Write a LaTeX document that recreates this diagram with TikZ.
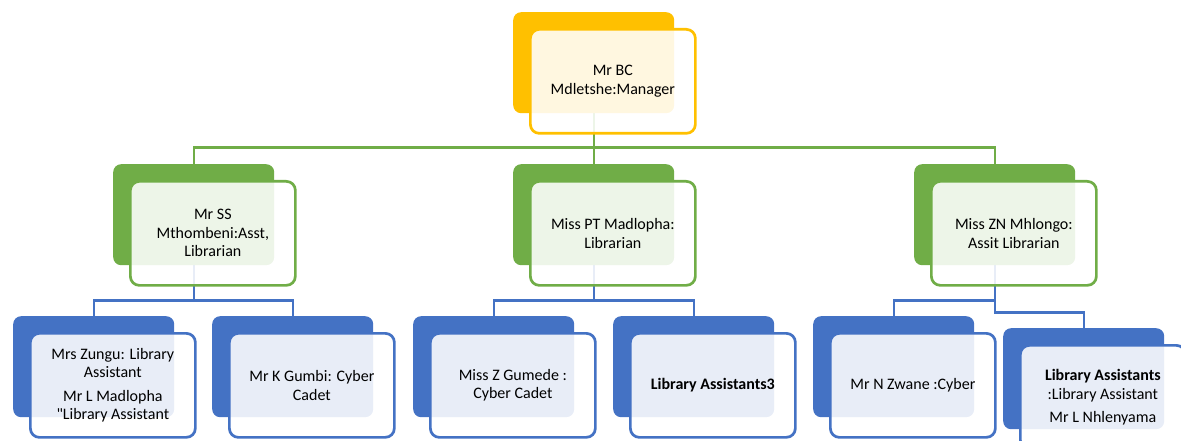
\documentclass[tikz,border=0pt]{standalone}
\usepackage{fontspec}
\setmainfont{Carlito}
\usetikzlibrary{backgrounds}
\definecolor{cyel}{HTML}{FFC000}
\definecolor{cgrn}{HTML}{70AD47}
\definecolor{cblu}{HTML}{4472C4}
\newcommand\straightquote{\XeTeXglyph\XeTeXcharglyph"0022\relax}
\tikzset{
  backbox/.style={fill=#1, draw=none, rounded corners=8pt, minimum width=161pt, minimum height=101pt, inner sep=0pt, anchor=north west},
  frontbox/.style={fill=white, fill opacity=0.88, text opacity=1, draw=#1, draw opacity=1, line width=2.7pt, rounded corners=9pt, minimum width=165pt, minimum height=104pt, inner sep=2pt, align=center, anchor=north west, font=\fontsize{16}{18.5}\selectfont},
  link/.style={draw=#1, line width=2.3pt},
}
\newcommand\orgunit[5]{%
  \node[backbox=#4] (#1B) at (#2,#3) {};
  \node[frontbox=#4] (#1F) at ([xshift=16pt,yshift=-16pt]#1B.north west) {#5};
}
\begin{document}
\begin{tikzpicture}[x=1pt,y=-1pt]
\useasboundingbox (0,0) rectangle (1181,441);
\clip (0,0) rectangle (1181,441);
% boxes
\orgunit{top}{513}{12}{cyel}{Mr BC\\Mdletshe:Manager}
\orgunit{ma}{113}{164}{cgrn}{Mr SS\\Mthombeni:Asst,\\Librarian}
\orgunit{mb}{513}{164}{cgrn}{Miss PT Madlopha:\\Librarian}
\orgunit{mc}{914}{164}{cgrn}{Miss ZN Mhlongo:\\Assit Librarian}
\orgunit{ba}{13}{316}{cblu}{Mrs Zungu: Library\\Assistant\\[5pt]Mr L Madlopha\\\straightquote Library Assistant}
\orgunit{bb}{212}{316}{cblu}{Mr K Gumbi: Cyber\\Cadet}
\orgunit{bc}{413}{316}{cblu}{Miss Z Gumede :\\Cyber Cadet}
\orgunit{bd}{613}{316}{cblu}{\textbf{Library Assistants3}}
\orgunit{be}{813}{316}{cblu}{Mr N Zwane :Cyber}
\orgunit{bf}{1003}{328}{cblu}{\textbf{Library Assistants}\\:Library Assistant\\[5pt]Mr L Nhlenyama}
% connectors behind the boxes
\begin{pgfonlayer}{background}
\draw[link=cgrn] (topB.south) -- ++(0,34) -| (maB.north);
\draw[link=cgrn] (topB.south) -- ++(0,34) -| (mcB.north);
\draw[link=cgrn] (topB.south) -- (mbB.north);
\draw[link=cblu] (maB.south) -- ++(0,35) -| (baB.north);
\draw[link=cblu] (maB.south) -- ++(0,35) -| (bbB.north);
\draw[link=cblu] (mbB.south) -- ++(0,35) -| (bcB.north);
\draw[link=cblu] (mbB.south) -- ++(0,35) -| (bdB.north);
\draw[link=cblu] (mcB.south) -- ++(0,35) -| (beB.north);
\draw[link=cblu] (mcB.south) -- ++(0,47) -| (bfB.north);
\end{pgfonlayer}
\end{tikzpicture}
\end{document}
